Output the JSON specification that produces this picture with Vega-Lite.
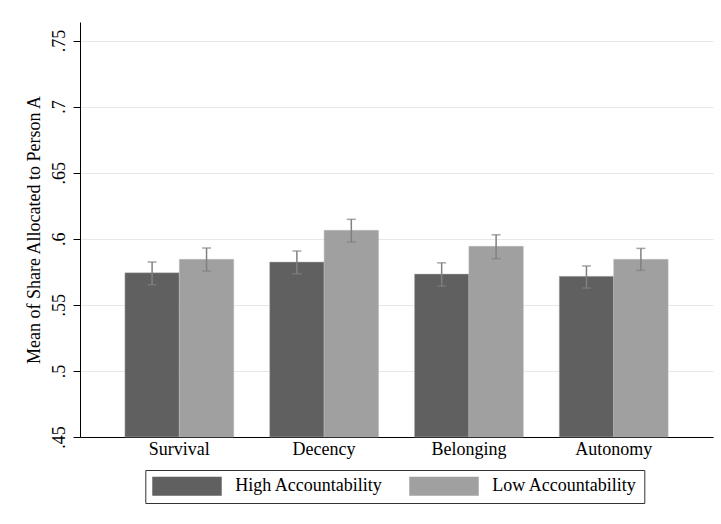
{
  "$schema": "https://vega.github.io/schema/vega-lite/v6.json",
  "width": 633,
  "height": 415,
  "autosize": {"type": "none"},
  "padding": {"left": 80, "top": 22, "right": 8, "bottom": 87},
  "background": "white",
  "config": {
    "view": {"stroke": null},
    "font": "'Liberation Serif', 'Times New Roman', Times, serif",
    "axis": {"labelFont": "'Liberation Serif', 'Times New Roman', Times, serif", "titleFont": "'Liberation Serif', 'Times New Roman', Times, serif", "labelColor": "#000", "titleColor": "#000", "titleFontWeight": "normal"},
    "legend": {"labelFont": "'Liberation Serif', 'Times New Roman', Times, serif"}
  },
  "data": {
    "values": [
      {"cat": "Survival", "group": "High Accountability", "mean": 0.5743, "lo": 0.5652, "hi": 0.5824},
      {"cat": "Survival", "group": "Low Accountability", "mean": 0.5844, "lo": 0.5756, "hi": 0.5930},
      {"cat": "Decency", "group": "High Accountability", "mean": 0.5824, "lo": 0.5735, "hi": 0.5907},
      {"cat": "Decency", "group": "Low Accountability", "mean": 0.6064, "lo": 0.5975, "hi": 0.6147},
      {"cat": "Belonging", "group": "High Accountability", "mean": 0.5733, "lo": 0.5642, "hi": 0.5818},
      {"cat": "Belonging", "group": "Low Accountability", "mean": 0.5943, "lo": 0.5849, "hi": 0.6030},
      {"cat": "Autonomy", "group": "High Accountability", "mean": 0.5716, "lo": 0.5627, "hi": 0.5794},
      {"cat": "Autonomy", "group": "Low Accountability", "mean": 0.5844, "lo": 0.5761, "hi": 0.5927}
    ]
  },
  "encoding": {
    "x": {
      "field": "cat", "type": "nominal",
      "sort": ["Survival", "Decency", "Belonging", "Autonomy"],
      "scale": {"paddingInner": 0.248, "paddingOuter": 0.31},
      "axis": {"title": null, "labelAngle": 0, "labelFontSize": 18, "ticks": false, "domainColor": "#000", "domainWidth": 1, "labelPadding": 3}
    },
    "xOffset": {"field": "group", "type": "nominal", "sort": ["High Accountability", "Low Accountability"], "scale": {"paddingInner": 0, "paddingOuter": 0}}
  },
  "layer": [
    {
      "mark": {"type": "bar", "stroke": "#b8b8b8", "strokeWidth": 0.5},
      "encoding": {
        "y": {
          "field": "mean", "type": "quantitative",
          "scale": {"domain": [0.45, 0.764], "zero": false, "nice": false},
          "axis": {
            "title": "Mean of Share Allocated to Person A",
            "titleFontSize": 18,
            "titlePadding": 7,
            "values": [0.45, 0.5, 0.55, 0.6, 0.65, 0.7, 0.75],
            "labelExpr": "slice(format(datum.value, '.2~f'), 1)",
            "labelFontSize": 18,
            "labelAngle": -90,
            "labelAlign": "center",
            "labelBaseline": "alphabetic",
            "labelPadding": 9,
            "tickSize": 7,
            "tickColor": "#000",
            "domainColor": "#000",
            "gridColor": "#e8e8e8",
            "gridWidth": 1.2
          }
        },
        "y2": {"datum": 0.45},
        "color": {
          "field": "group", "type": "nominal",
          "scale": {"domain": ["High Accountability", "Low Accountability"], "range": ["#606060", "#a0a0a0"]},
          "legend": {
            "title": null,
            "orient": "none",
            "legendX": 65.3,
            "legendY": 448,
            "direction": "horizontal",
            "columns": 2,
            "strokeColor": "#333",
            "padding": 7,
            "labelFontSize": 18,
            "labelColor": "#000",
            "symbolType": "M-5,-1.37H5V1.37H-5Z",
            "symbolSize": 193,
            "symbolOffset": 25.7,
            "symbolStrokeWidth": 0,
            "symbolOpacity": 1,
            "labelOffset": 39.3,
            "columnPadding": 25
          }
        }
      }
    },
    {
      "mark": {"type": "rule", "color": "#808080", "strokeWidth": 1.5},
      "encoding": {
        "y": {"field": "lo", "type": "quantitative"},
        "y2": {"field": "hi"}
      }
    },
    {
      "mark": {"type": "tick", "color": "#808080", "thickness": 1.5, "size": 9},
      "encoding": {"y": {"field": "lo", "type": "quantitative"}}
    },
    {
      "mark": {"type": "tick", "color": "#808080", "thickness": 1.5, "size": 9},
      "encoding": {"y": {"field": "hi", "type": "quantitative"}}
    }
  ]
}
